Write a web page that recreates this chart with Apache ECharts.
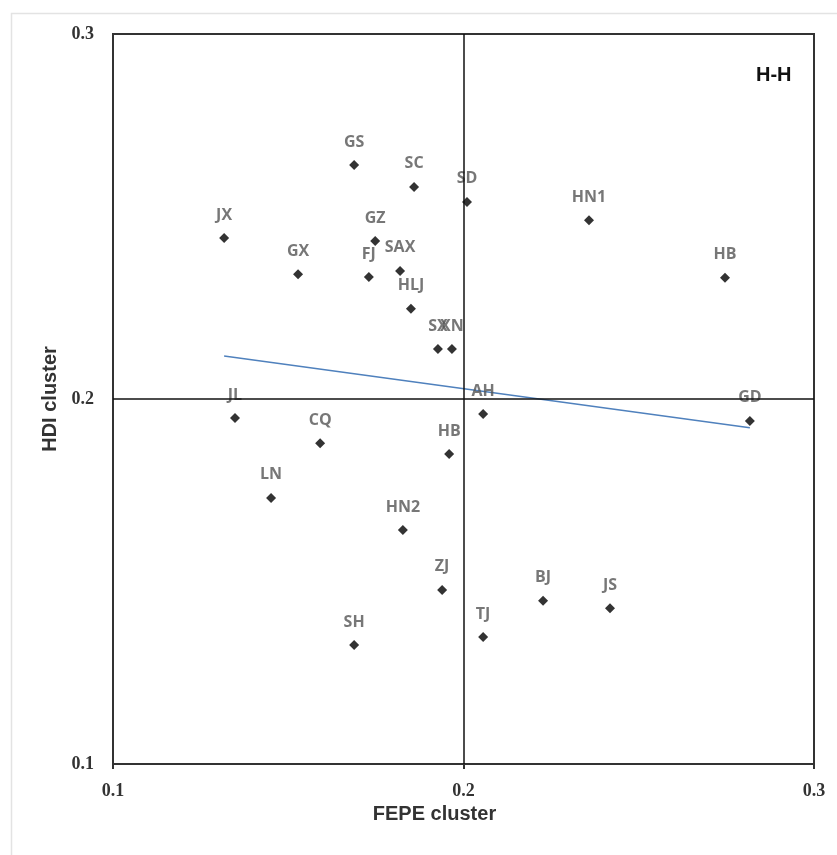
<!DOCTYPE html>
<html>
<head>
<meta charset="utf-8">
<title>FEPE / HDI cluster</title>
<script src="https://cdn.jsdelivr.net/npm/echarts@6/dist/echarts.min.js"></script>
<style>
  html, body { margin: 0; padding: 0; background: #fff; }
  #main { width: 837px; height: 855px; }
</style>
</head>
<body>
<div id="main"></div>
<script>
// provinces
var names = ['GS', 'SC', 'SD', 'HN1', 'JX', 'GZ', 'GX', 'FJ', 'SAX', 'HB', 'HLJ', 'SX', 'XN',
             'JL', 'AH', 'GD', 'CQ', 'HB', 'LN', 'HN2', 'ZJ', 'BJ', 'JS', 'TJ', 'SH'];
// FEPE cluster (x)
var fepe = [0.1688, 0.1859, 0.2010, 0.2358, 0.1317, 0.1748, 0.1528, 0.1730, 0.1819, 0.2746, 0.1850, 0.1927, 0.1967,
            0.1348, 0.2056, 0.2817, 0.1591, 0.1959, 0.1451, 0.1827, 0.1939, 0.2227, 0.2418, 0.2056, 0.1688];
// HDI cluster (y)
var hdi = [0.2641, 0.2581, 0.2540, 0.2490, 0.2441, 0.2433, 0.2342, 0.2334, 0.2351, 0.2332, 0.2247, 0.2137, 0.2137,
           0.1948, 0.1959, 0.1940, 0.1879, 0.1849, 0.1729, 0.1641, 0.1477, 0.1447, 0.1427, 0.1348, 0.1326];
// linear trend
var trendX = [0.1317, 0.2817];
var trendY = [0.2118, 0.1921];
var ticks = [0.1, 0.2, 0.3];

var points = [];
for (var i = 0; i < names.length; i++) {
  points.push({ name: names[i], value: [fepe[i], hdi[i]] });
}
var trend = [];
for (var j = 0; j < trendX.length; j++) {
  trend.push([trendX[j], trendY[j]]);
}

var chart = echarts.init(document.getElementById('main'));
var tickLabel = {
  fontFamily: 'Liberation Serif',
  fontWeight: 'bold',
  fontSize: 18,
  color: '#333',
  formatter: function (v) { return v.toFixed(1); }
};

chart.setOption({
  animation: false,
  grid: {
    left: 113, top: 34, right: 23, bottom: 91,
    show: true,
    borderColor: '#333',
    borderWidth: 2
  },
  graphic: [
    {
      type: 'rect',
      left: 9, top: 11,
      shape: { width: 860, height: 880 },
      style: { fill: 'none', stroke: '#e3e3e3', lineWidth: 1.5 },
      silent: true
    },
    {
      type: 'text',
      left: 756, top: 65,
      style: {
        text: 'H-H',
        fontFamily: 'Liberation Sans',
        fontWeight: 'bold',
        fontSize: 20,
        fill: '#111'
      }
    }
  ],
  xAxis: {
    type: 'value',
    min: ticks[0],
    max: ticks[ticks.length - 1],
    interval: 0.1,
    name: 'FEPE cluster',
    nameLocation: 'middle',
    nameGap: 38,
    nameTextStyle: {
      fontFamily: 'Liberation Sans',
      fontWeight: 'bold',
      fontSize: 20,
      color: '#333',
      padding: [0, 58, 0, 0]
    },
    splitLine: { show: false },
    axisLine: { lineStyle: { color: '#333', width: 2 } },
    axisTick: { show: true, length: 5, lineStyle: { color: '#333', width: 2 } },
    axisLabel: Object.assign({ margin: 18 }, tickLabel)
  },
  yAxis: {
    type: 'value',
    min: ticks[0],
    max: ticks[ticks.length - 1],
    interval: 0.1,
    name: 'HDI cluster',
    nameLocation: 'middle',
    nameGap: 53,
    nameTextStyle: {
      fontFamily: 'Liberation Sans',
      fontWeight: 'bold',
      fontSize: 20,
      color: '#333'
    },
    splitLine: { show: false },
    axisLine: { lineStyle: { color: '#333', width: 2 } },
    axisTick: { show: false },
    axisLabel: Object.assign({ margin: 19 }, tickLabel)
  },
  series: [
    {
      name: 'provinces',
      type: 'scatter',
      symbol: 'diamond',
      symbolSize: 10,
      itemStyle: { color: '#000' },
      data: points,
      label: {
        show: true,
        position: 'top',
        distance: 10,
        formatter: '{b}',
        fontFamily: 'Open Sans',
        fontWeight: 'bold',
        fontSize: 16,
        color: '#555'
      },
      markLine: {
        silent: true,
        symbol: 'none',
        label: { show: false },
        lineStyle: { color: '#111', width: 1.5, type: 'solid' },
        data: [{ xAxis: 0.2 }, { yAxis: 0.2 }]
      },
      z: 3
    },
    {
      name: 'trend',
      type: 'line',
      data: trend,
      symbol: 'none',
      lineStyle: { color: '#4f81bd', width: 1.5 },
      z: 2
    }
  ]
});
</script>
</body>
</html>
